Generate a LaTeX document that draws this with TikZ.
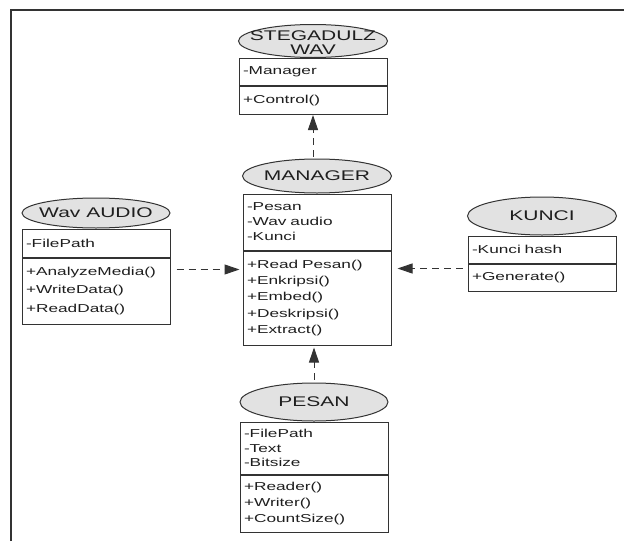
\documentclass[tikz,border=0pt]{standalone}
\usepackage{fontspec}
\setmainfont{Liberation Sans}[FakeStretch=1.5]
\usetikzlibrary{arrows.meta,positioning,shapes.geometric}
\definecolor{headgray}{HTML}{E2E2E2}
\definecolor{linegray}{HTML}{333333}
\definecolor{txtgray}{HTML}{1E1E1E}

\begin{document}
\begin{tikzpicture}[x=1pt,y=-1pt,
  head/.style={ellipse,draw=linegray,fill=headgray,line width=1pt,minimum width=149pt,minimum height=34pt,inner sep=0pt},
  headtext/.style={text=txtgray,font=\fontsize{14}{14}\selectfont,align=center,inner sep=0pt},
  compart/.style={rectangle,draw=linegray,line width=1pt,minimum width=148pt,text width=140pt,inner xsep=4pt,inner ysep=0pt,align=left,text=txtgray,minimum height=#1,font=\fontsize{11.5}{15}\selectfont},
  leading/.style={font=\fontsize{11.5}{#1}\selectfont},
  dep/.style={draw=linegray,line width=1pt,dash pattern=on 7pt off 5pt,-{Triangle[length=15pt,width=10pt]}},
  frame/.style={draw=linegray,line width=1.6pt}]
\useasboundingbox (0,0) rectangle (624,541);
\draw[frame] (11,541) -- (11,10) -- (624,10);

% Class headers
\node[head,minimum height=33pt] (steg) at (313,41) {};
\node[headtext] (steglbl) at ([yshift=-2pt]steg.center) {STEGADULZ\\WAV};
\node[head] (mgr) at (317,176) {};
\node[headtext] (mgrlbl) at (mgr) {MANAGER};
\node[head,minimum width=148pt,minimum height=30pt] (wav) at (96,213) {};
\node[headtext] (wavlbl) at (wav) {Wav AUDIO};
\node[head,minimum height=38pt] (kunci) at (542,216) {};
\node[headtext] (kuncilbl) at (kunci) {KUNCI};
\node[head,minimum width=148pt,minimum height=38pt] (pesan) at (314,402) {};
\node[headtext] (pesanlbl) at (pesan) {PESAN};

% Attributes and operations
\node[compart=27pt,below=0pt of steg] (stegattr) {-Manager};
\node[compart=28pt,below=0pt of stegattr] (stegmeth) {+Control()};
\node[compart=56pt,below=0pt of mgr] (mgrattr) {-Pesan\\-Wav audio\\-Kunci};
\node[compart=94pt,leading=16.3,below=0pt of mgrattr] (mgrmeth) {+Read Pesan()\\+Enkripsi()\\+Embed()\\+Deskripsi()\\+Extract()};
\node[compart=28pt,below=0pt of wav] (wavattr) {-FilePath};
\node[compart=66pt,leading=18.5,below=0pt of wavattr] (wavmeth) {+AnalyzeMedia()\\+WriteData()\\+ReadData()};
\node[compart=27pt,below=0pt of kunci] (kunciattr) {-Kunci hash};
\node[compart=27pt,below=0pt of kunciattr] (kuncimeth) {+Generate()};
\node[compart=52pt,leading=14.5,below=0pt of pesan] (pesanattr) {-FilePath\\-Text\\-Bitsize};
\node[compart=57pt,leading=16,below=0pt of pesanattr] (pesanmeth) {+Reader()\\+Writer()\\+CountSize()};

% Dependencies
\coordinate (wavout) at ([yshift=-12pt]wavmeth.north east);
\coordinate (kunciout) at ([yshift=-5pt]kuncimeth.north west);
\draw[dep,shorten <=2pt] (mgr.north -| stegmeth.south) -- (stegmeth.south);
\draw[dep,shorten <=3pt,shorten >=2pt] (pesan.north) -- (pesan.north |- mgrmeth.south);
\draw[dep,shorten <=6pt,shorten >=3pt] (wavout) -- (wavout -| mgrmeth.west);
\draw[dep,shorten <=5pt,shorten >=6pt] (kunciout) -- (kunciout -| mgrmeth.east);
\end{tikzpicture}
\end{document}
